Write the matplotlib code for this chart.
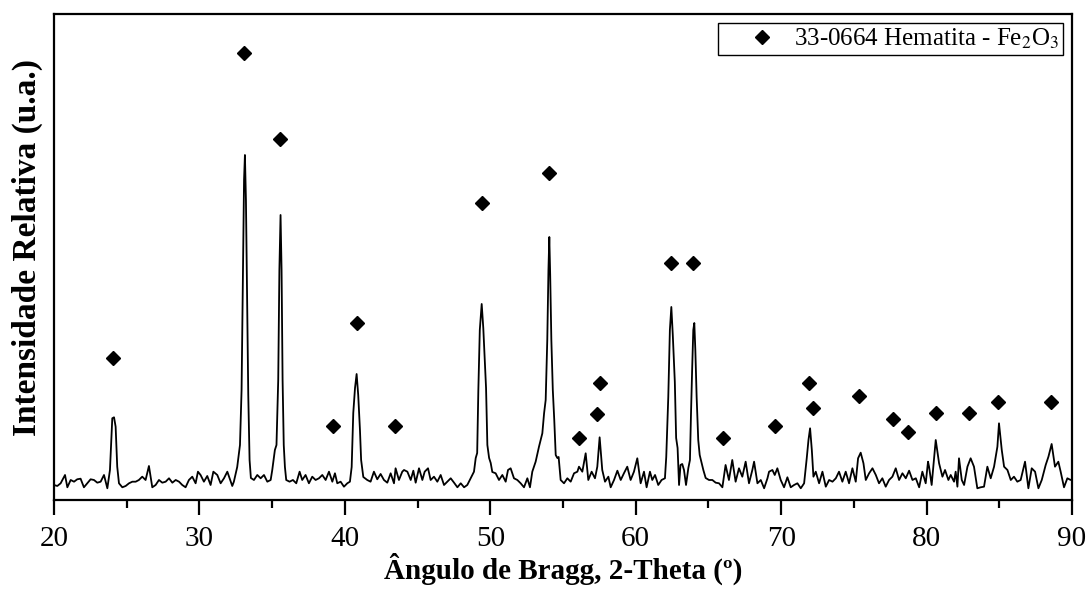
import matplotlib.pyplot as plt
from matplotlib.ticker import MultipleLocator, NullLocator

# XRD pattern (2-theta in degrees, intensity in a.u.)
two_theta = [
    20.00, 20.23, 20.46, 20.76, 20.92, 21.15, 21.38, 21.60, 21.83, 22.06,
    22.29, 22.52, 22.75, 22.98, 23.21, 23.44, 23.67, 23.85, 24.01, 24.13,
    24.24, 24.35, 24.47, 24.70, 24.93, 25.16, 25.39, 25.62, 25.84, 26.07,
    26.30, 26.53, 26.76, 26.99, 27.22, 27.45, 27.68, 27.91, 28.14, 28.37,
    28.60, 28.82, 29.05, 29.28, 29.51, 29.74, 29.90, 30.08, 30.31, 30.54,
    30.77, 30.96, 31.23, 31.46, 31.69, 31.92, 32.26, 32.37, 32.60, 32.79,
    32.90, 33.00, 33.07, 33.13, 33.20, 33.28, 33.36, 33.45, 33.54, 33.75,
    33.98, 34.21, 34.44, 34.67, 34.90, 35.01, 35.19, 35.30, 35.42, 35.50,
    35.58, 35.65, 35.72, 35.80, 35.88, 35.97, 36.20, 36.43, 36.66, 36.89,
    37.07, 37.30, 37.53, 37.76, 37.99, 38.22, 38.45, 38.68, 38.91, 39.14,
    39.32, 39.48, 39.71, 39.94, 40.17, 40.35, 40.47, 40.58, 40.70, 40.81,
    40.92, 41.04, 41.12, 41.27, 41.54, 41.77, 42.00, 42.23, 42.46, 42.69,
    42.92, 43.15, 43.38, 43.49, 43.72, 43.95, 44.07, 44.30, 44.53, 44.71,
    44.87, 45.10, 45.33, 45.49, 45.72, 45.90, 46.13, 46.36, 46.59, 46.82,
    47.05, 47.28, 47.51, 47.74, 47.97, 48.20, 48.42, 48.65, 48.88, 49.00,
    49.10, 49.18, 49.28, 49.41, 49.52, 49.62, 49.71, 49.80, 49.92, 50.03,
    50.14, 50.37, 50.60, 50.83, 51.06, 51.22, 51.40, 51.63, 51.86, 52.09,
    52.32, 52.55, 52.73, 52.89, 53.12, 53.35, 53.58, 53.70, 53.81, 53.92,
    54.00, 54.06, 54.12, 54.20, 54.30, 54.40, 54.50, 54.61, 54.70, 54.84,
    55.07, 55.30, 55.53, 55.76, 55.99, 56.10, 56.33, 56.56, 56.74, 56.97,
    57.20, 57.36, 57.52, 57.70, 57.89, 58.12, 58.28, 58.51, 58.74, 58.97,
    59.19, 59.42, 59.65, 59.88, 60.11, 60.34, 60.57, 60.75, 60.98, 61.14,
    61.33, 61.55, 61.78, 62.01, 62.10, 62.24, 62.35, 62.45, 62.55, 62.69,
    62.78, 62.88, 62.98, 63.08, 63.20, 63.32, 63.46, 63.62, 63.73, 63.80,
    63.88, 63.96, 64.03, 64.10, 64.19, 64.30, 64.40, 64.52, 64.65, 64.81,
    65.04, 65.27, 65.50, 65.73, 65.96, 66.18, 66.41, 66.64, 66.87, 67.10,
    67.33, 67.56, 67.79, 68.02, 68.14, 68.37, 68.60, 68.83, 69.06, 69.17,
    69.40, 69.56, 69.74, 69.97, 70.20, 70.43, 70.66, 70.89, 71.12, 71.35,
    71.58, 71.76, 71.88, 71.99, 72.11, 72.22, 72.38, 72.61, 72.84, 73.07,
    73.30, 73.53, 73.76, 73.98, 74.21, 74.44, 74.67, 74.90, 75.13, 75.29,
    75.47, 75.66, 75.82, 76.05, 76.28, 76.51, 76.73, 76.96, 77.19, 77.42,
    77.65, 77.88, 78.11, 78.34, 78.57, 78.80, 79.03, 79.26, 79.49, 79.71,
    79.94, 80.10, 80.17, 80.35, 80.63, 80.86, 81.09, 81.27, 81.50, 81.66,
    81.89, 82.00, 82.12, 82.23, 82.42, 82.58, 82.81, 83.03, 83.26, 83.49,
    83.72, 83.95, 84.18, 84.41, 84.64, 84.87, 84.98, 85.17, 85.33, 85.56,
    85.79, 86.01, 86.24, 86.47, 86.77, 87.00, 87.23, 87.46, 87.69, 87.92,
    88.19, 88.38, 88.60, 88.83, 89.06, 89.22, 89.45, 89.68, 89.91, 90.00,
]
intensity = [
    15, 14, 16.7, 25, 12.7, 20, 18.3, 20.7, 21.3, 12.7,
    16.7, 20.7, 20, 17.3, 18.3, 25, 11.7, 30, 81.7, 82.7,
    73.3, 33.3, 16.7, 12.7, 14, 16.7, 18.3, 18.3, 20, 23.3,
    20, 34, 12.7, 15, 20, 17.3, 18.3, 21.7, 17.3, 20,
    18.3, 15, 12.7, 20, 23.3, 16.7, 28.3, 25, 18.3, 24,
    15, 28.3, 25, 16.7, 21.7, 28.3, 14, 18.3, 33, 55,
    110, 230, 320, 345, 300, 200, 105, 40, 22, 20,
    25, 21.7, 25, 18.3, 20, 30, 50, 55, 120, 230,
    285, 230, 120, 55, 33, 20, 18.3, 20, 16.7, 28.3,
    20, 25, 16.7, 23.3, 20, 21.7, 25, 20, 28.3, 18.3,
    26.7, 16.7, 18.3, 13.3, 16.7, 18.3, 33, 87, 112, 126,
    105, 70, 40, 23, 20, 18.3, 28.3, 20.7, 26, 20,
    17.3, 26.7, 16.7, 31.7, 20, 28.3, 30, 28.3, 20, 29.3,
    17.3, 31.7, 20, 28.3, 31.7, 20, 23.3, 18.3, 25, 15,
    18.3, 21.7, 17.3, 12.7, 16.7, 12.7, 15, 21.7, 28.3, 42,
    47, 110, 170, 196, 172, 140, 112, 55, 42, 37,
    28, 26.7, 20, 25, 18.3, 30, 31.7, 21.7, 20, 16.7,
    12.7, 21.7, 12.7, 28.3, 38.3, 53.3, 66.7, 86.7, 100, 160,
    230, 263, 225, 160, 110, 80, 45, 42, 43, 20,
    16.7, 21.7, 18.3, 26.7, 28.3, 33.3, 28.3, 46.7, 20, 28.3,
    21.7, 33.3, 62.7, 30, 18.3, 23.3, 12.7, 20, 29.3, 20,
    26.7, 33.3, 20, 28.3, 41.7, 16.7, 28.3, 12.7, 28.3, 20,
    25, 15, 20, 21.7, 43, 103, 170, 193, 165, 118,
    62, 52, 15, 35, 36, 30, 15, 32, 40, 85,
    130, 170, 177, 150, 103, 60, 45, 38, 30, 22,
    20, 20, 17.3, 16.7, 12.7, 35, 20, 40, 18.3, 31.7,
    23.3, 38.3, 16.7, 30, 38.3, 16.7, 20, 11.7, 21.7, 28.3,
    30, 25, 31.7, 20, 12.7, 22.7, 12.7, 15, 16.7, 11.7,
    16.7, 41.7, 60, 71.7, 50, 23.3, 28.3, 16.7, 28.3, 13.3,
    20, 18.3, 21.7, 28.3, 18.3, 28.3, 16.7, 31.7, 18.3, 41.7,
    47.3, 36.7, 20, 26.7, 31.7, 25, 16.7, 21.7, 13.3, 20,
    23.3, 31.7, 20, 26.7, 21.7, 29.3, 20, 21.7, 12.7, 28.3,
    16.7, 38.3, 33.3, 15, 60, 36.7, 23.3, 30, 20, 25,
    18.3, 28.3, 13.3, 41.7, 20, 15, 33.3, 41.7, 33.3, 11.7,
    12.7, 13.3, 33.3, 21.7, 33.3, 53.3, 76.7, 50, 33.3, 30,
    20, 23.3, 18.3, 20, 38.3, 11.7, 31.7, 28.3, 11.7, 20,
    35, 43.3, 56, 33.3, 38.3, 28.3, 12.7, 21.7, 20, 20.7,
]

# Hematite reference lines (JCPDS 33-0664) marked with diamonds
ref_theta = [24.08, 33.07, 35.54, 39.21, 40.82, 43.45, 49.41, 54.04, 56.11, 57.37,
             57.55, 62.41, 63.92, 65.99, 69.57, 71.93, 72.22, 75.36, 77.72, 78.73,
             80.68, 82.91, 84.88, 88.55]
ref_height = [142, 447, 361, 74, 177, 74, 297, 327, 62, 86,
              117, 237, 237, 62, 74, 117, 92, 104, 81, 68,
              87, 87, 98, 98]

plt.rcParams['font.family'] = 'Liberation Serif'
plt.rcParams['mathtext.fontset'] = 'stix'

fig = plt.figure(figsize=(10.88, 5.91), dpi=100)
ax = fig.add_axes([0.0496, 0.154, 0.9357, 0.8223])

ax.plot(two_theta, intensity, color='black', lw=1.3)
ax.plot(ref_theta, ref_height, 'kD', ms=7, ls='none',
        label='33-0664 Hematita - Fe$_2$O$_3$')

ax.set_xlim(20, 90)
ax.set_ylim(0, 486)
ax.xaxis.set_major_locator(MultipleLocator(10))
ax.xaxis.set_minor_locator(MultipleLocator(5))
ax.yaxis.set_major_locator(NullLocator())
ax.tick_params(axis='x', which='major', direction='out', length=11, width=1.6,
               labelsize=21, pad=8)
ax.tick_params(axis='x', which='minor', direction='out', length=6, width=1.6)
for s in ax.spines.values():
    s.set_linewidth(1.6)

ax.set_xlabel('Ângulo de Bragg, 2-Theta (º)', fontsize=21, fontweight='bold')
ax.xaxis.set_label_coords(0.5, -0.108)
ax.set_ylabel('Intensidade Relativa (u.a.)', fontsize=24, fontweight='bold', labelpad=8)
ax.yaxis.label.set_y(0.52)

leg = ax.legend(loc='upper right', fontsize=18, fancybox=False, edgecolor='black',
                framealpha=1, borderaxespad=0.35, handletextpad=-0.3, handlelength=3.2,
                borderpad=0.15)
leg.get_frame().set_linewidth(1.0)

fig.savefig('out.png', dpi=100)
